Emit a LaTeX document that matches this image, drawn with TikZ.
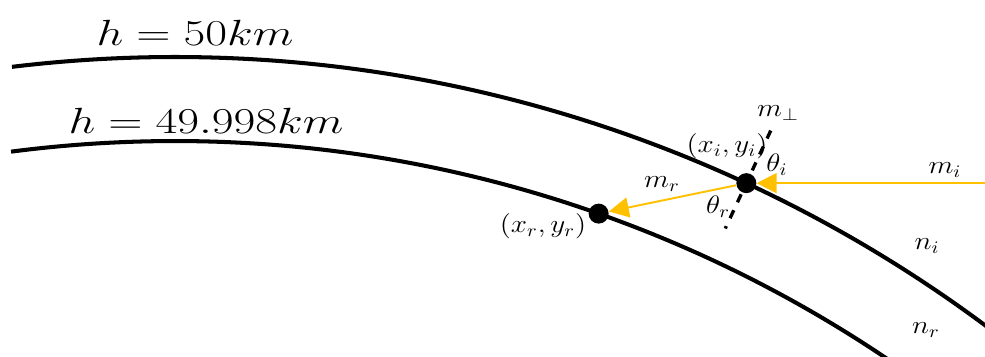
\documentclass[tikz,border=0pt]{standalone}
\usepackage{amsmath, amssymb}
\usepackage{xcolor}
\usepackage{tikz}
\usetikzlibrary{positioning, arrows.meta, calc}
\definecolor{beam}{HTML}{FFC000}
\tikzset{
  layer line/.style={
    draw=black,
    line width=2.3pt
  },
  ray arrow/.style={
    draw=beam,
    line width=1.1pt,
    -{Triangle[length=0.4cm, width=0.4cm]}
  },
  hit point/.style={
    circle, fill=black,
    minimum size=0.4cm,
    inner sep=0pt
  },
  normal dash/.style={
    line width=1.9pt,
    dash pattern=on 5pt off 5pt
  },
  small label/.style={font=\fontsize{14.5}{17}\selectfont, xscale=1.15},
  height label/.style={font=\fontsize{20}{24}\selectfont, xscale=1.3}
}
\begin{document}
\begin{tikzpicture}
  \useasboundingbox (0,0) rectangle (19.7,7.14);
  \coordinate (ctr) at (3.5,-21.14);

  % Layers
  \begin{scope}
    \clip (0,0) rectangle (19.7,7.14);
    \draw[layer line] ($(ctr)+(96.9:27.14)$) arc[start angle=96.9, end angle=40, radius=27.14];
    \draw[layer line] ($(ctr)+(97.4:25.46)$) arc[start angle=97.4, end angle=40, radius=25.46];
  \end{scope}
  \node[height label] (top h) at (3.90,6.48) {$h = 50km$};
  \node[height label] (low h) at (4.12,4.72) {$h = 49.998km$};

  % Points
  \node[hit point] (xi) at ($(ctr)+(65.1:27.14)$) {};
  \node[hit point] (xr) at ($(ctr)+(70.56:25.46)$) {};
  \coordinate (mi src) at (xi -| 19.7,0);

  % Normal
  \draw[normal dash] ($(ctr)+(65.1:28.3)$) -- ($(ctr)+(65.1:26.14)$);

  % Rays
  \draw[ray arrow] (mi src) -- (xi);
  \draw[ray arrow] (xi) -- (xr);

  % Labels
  \node[small label] (xi lbl) at (14.54,4.22) {$(x_i, y_i)$};
  \node[small label] (xr lbl) at (10.86,2.62) {$(x_r, y_r)$};
  \node[small label] (mperp lbl) at (15.56,4.88) {$m_\perp$};
  \node[small label] (thi lbl) at (15.54,3.84) {$\theta_i$};
  \node[small label] (thr lbl) at (14.36,3.00) {$\theta_r$};
  \node[small label] (mi lbl) at (18.90,3.74) {$m_i$};
  \node[small label] (mr lbl) at (13.24,3.46) {$m_r$};
  \node[small label] (ni lbl) at (18.54,2.22) {$n_i$};
  \node[small label] (nr lbl) at (18.52,0.54) {$n_r$};
\end{tikzpicture}
\end{document}
